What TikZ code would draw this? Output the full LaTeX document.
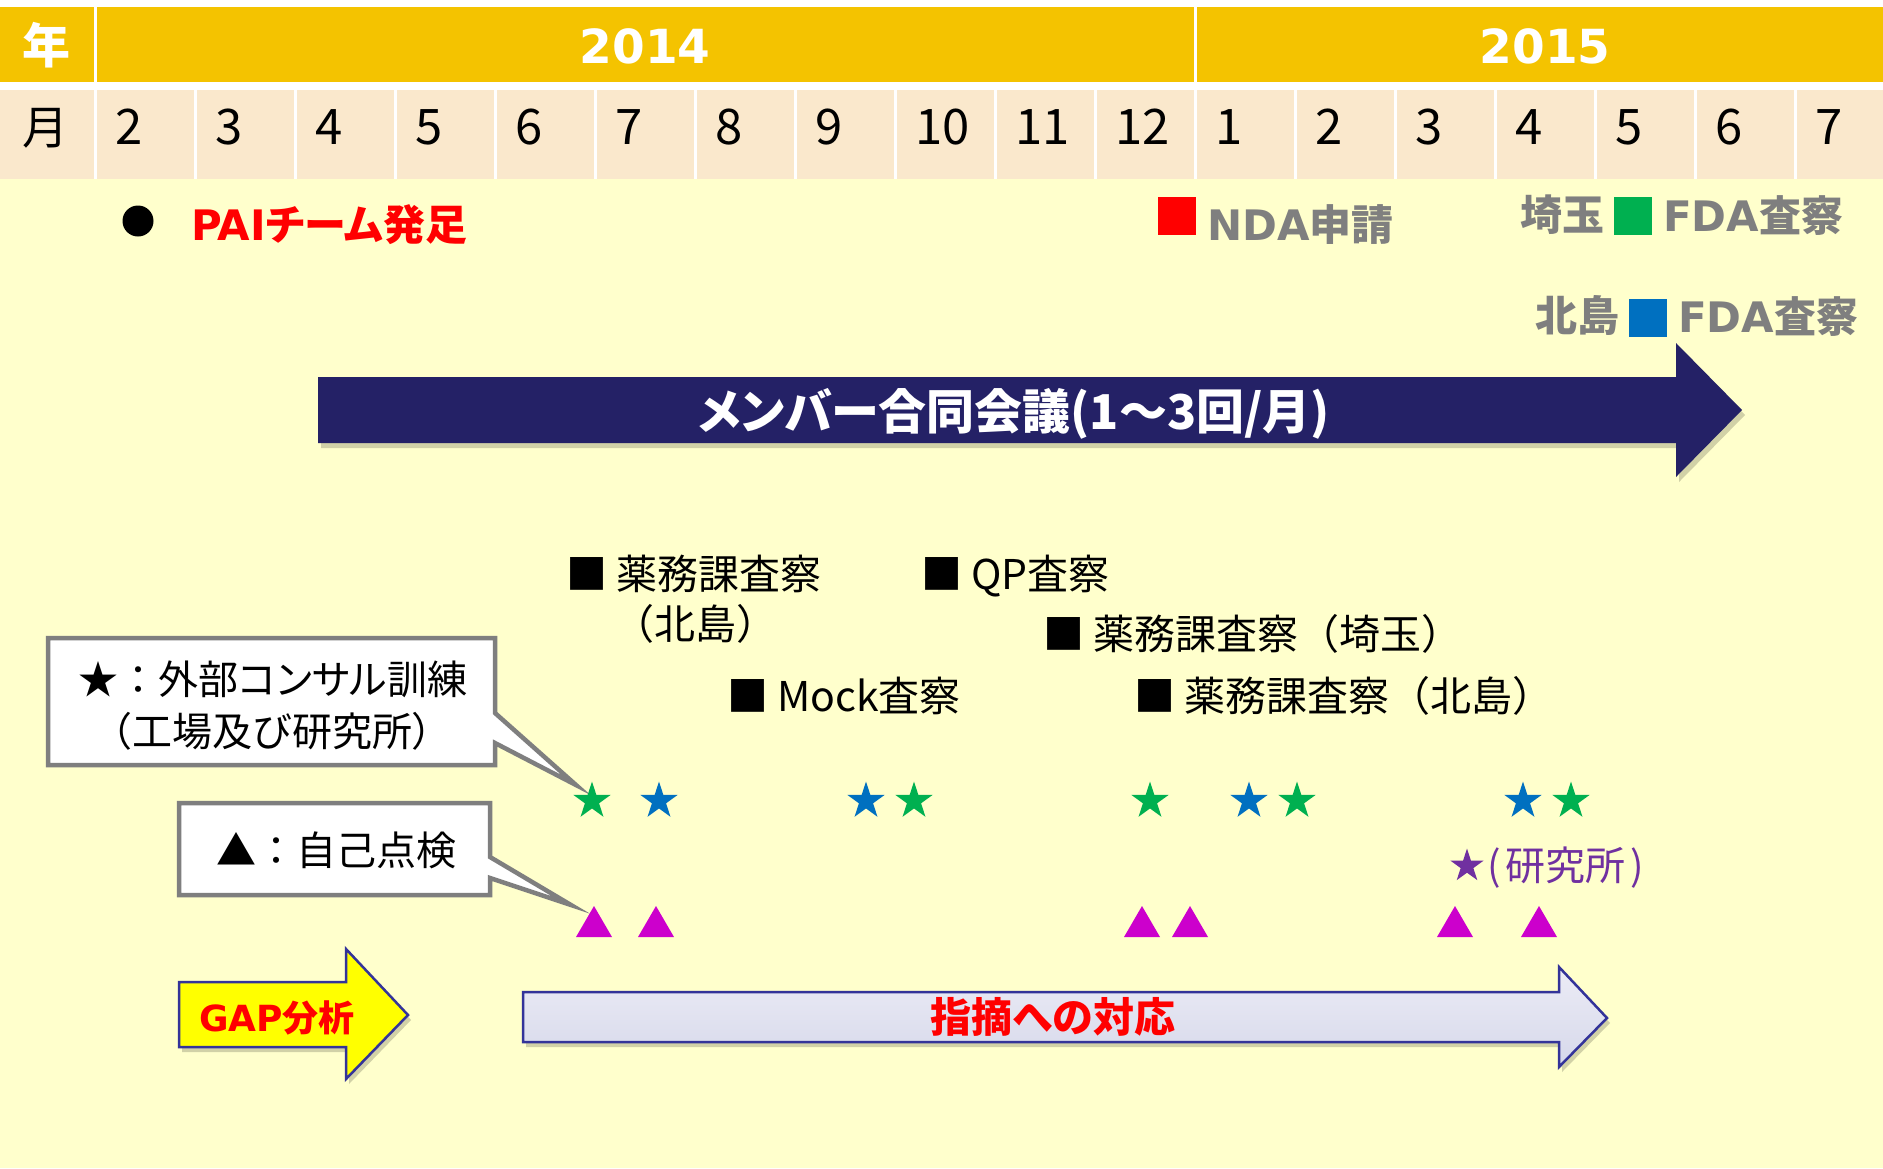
\documentclass[tikz,border=0pt]{standalone}
\usepackage{fontspec}
\setmainfont{Noto Sans CJK JP}[RawFeature=+palt]
\newfontfamily\jpf{Noto Sans CJK JP}
\newfontfamily\dv{DejaVu Sans}
\usetikzlibrary{shapes.geometric}
\definecolor{band}{HTML}{F4C300}
\definecolor{monthbg}{HTML}{FAE8CC}
\definecolor{bgy}{HTML}{FFFFCC}
\definecolor{navy}{HTML}{242166}
\definecolor{sgreen}{HTML}{00B050}
\definecolor{sblue}{HTML}{0070C0}
\definecolor{mag}{HTML}{CC00CC}
\definecolor{purp}{HTML}{7030A0}
\definecolor{gtext}{HTML}{7F7F7F}
\definecolor{cgray}{HTML}{7F7F7F}
\definecolor{aborder}{HTML}{333399}
\definecolor{lavtop}{HTML}{ECECF6}
\definecolor{lavbot}{HTML}{D6D8EA}
\definecolor{gapyel}{HTML}{FFFF00}
\definecolor{redtxt}{HTML}{FF0000}
\begin{document}
\begin{tikzpicture}[x=1pt,y=-1pt,
  lbl/.style={inner sep=0pt, outer sep=0pt},
  jp/.style={font=\fontsize{#1}{#1}\selectfont},
  jpb/.style={font=\fontsize{#1}{#1}\selectfont\bfseries},
  starnode/.style={star, star points=5, star point ratio=2.618, minimum size=39pt, inner sep=0pt, draw=none, fill=#1},
  calloutbox/.style={draw=cgray, line width=4.5pt, fill=white, line join=miter},
  shadowfill/.style={fill=black, opacity=0.18},
  arrowline/.style={draw=aborder, line width=2.5pt, line join=miter},
  legendsq/.style={inner sep=0pt, outer sep=0pt, minimum width=38pt, minimum height=38pt, fill=#1},
  trimark/.style={fill=mag}
]
\useasboundingbox (0,0) rectangle (1883,1168);
% background and header
\fill[white] (0,0) rectangle (1883,1168);
\fill[bgy] (0,179) rectangle (1883,1168);
\fill[band] (0,7) rectangle (1883,82);
\fill[monthbg] (0,90) rectangle (1883,179);
\foreach \k in {0,...,17} \fill[white] (94+100*\k,90) rectangle (97+100*\k,179);
\fill[white] (94,7) rectangle (97,82);
\fill[white] (1194,7) rectangle (1197,82);
\node[lbl, jpb=48, text=white, anchor=base] (nen) at (46,63) {年};
\node[lbl, font=\fontsize{47}{47}\selectfont\dv\bfseries, text=white, anchor=base] (y2014) at (645,63) {2014};
\node[lbl, font=\fontsize{47}{47}\selectfont\dv\bfseries, text=white, anchor=base] (y2015) at (1545,63) {2015};
\node[lbl, jp=46, anchor=base] (tsuki) at (46,144) {月};
\foreach \m [count=\j from 0] in {2,3,4,5,6,7,8,9,10,11,12,1,2,3,4,5,6,7}
  \node[lbl, jp=49, anchor=base west] (m\j) at (96+100*\j+19,144) {\m};
% milestones
\node[circle, fill=black, minimum size=31pt, inner sep=0pt] (dot) at (138,221) {};
\node[lbl, jpb=42, text=redtxt, anchor=base west] (pai) at (191,240) {{\dv\bfseries PAI}チーム発足};
\node[legendsq=redtxt] (sqred) at (1176.5,216) {};
\node[lbl, jpb=42, text=gtext, anchor=base west] (nda) at (1207,240) {{\dv\bfseries NDA}申請};
\node[lbl, jpb=42, text=gtext, anchor=base west] (saitama) at (1520,230) {埼玉};
\node[legendsq=sgreen] (sqgreen) at (1633,216) {};
\node[lbl, jpb=42, text=gtext, anchor=base west] (fda1) at (1663,231) {{\dv\bfseries FDA}査察};
\node[lbl, jpb=42, text=gtext, anchor=base west] (kitajima) at (1535,331) {北島};
\node[legendsq=sblue] (sqblue) at (1648,317.5) {};
\node[lbl, jpb=42, text=gtext, anchor=base west] (fda2) at (1678,332) {{\dv\bfseries FDA}査察};
% navy arrow
\fill[shadowfill] ([shift={(3,5)}]318,377) -- ++(1358,0) -- ++(0,-34) -- ++(66,67) -- ++(-66,67) -- ++(0,-34) -- ++(-1358,0) -- cycle;
\fill[navy] (318,377) -- (1676,377) -- (1676,343) -- (1742,410) -- (1676,477) -- (1676,443) -- (318,443) -- cycle;
\node[lbl, jpb=48, text=white, anchor=base] (meeting) at (1014,429) {メンバー合同会議(1～3回/月)};
% inspections
\node[lbl, jp=41, anchor=base west] (ins1) at (566,589) {■ 薬務課査察};
\node[lbl, font=\fontsize{41}{41}\selectfont\jpf, anchor=base west] (ins1b) at (613,639) {（北島）};
\node[lbl, jp=41, anchor=base west] (ins2) at (921,589) {■ QP査察};
\node[lbl, font=\fontsize{41}{41}\selectfont\jpf, anchor=base west] (ins3) at (1043,649) {■ 薬務課査察（埼玉）};
\node[lbl, jp=41, anchor=base west] (ins4) at (727,711) {■ Mock査察};
\node[lbl, font=\fontsize{41}{41}\selectfont\jpf, anchor=base west] (ins5) at (1134,711) {■ 薬務課査察（北島）};
% callouts
\draw[calloutbox] (48,638) -- (495,638) -- (495,713) -- (576,785) -- (495,743) -- (495,765) -- (48,765) -- cycle;
\node[lbl, jp=40, anchor=base] (c1a) at (273,694) {{\jpf ★：}外部コンサル訓練};
\node[lbl, font=\fontsize{40}{40}\selectfont\jpf, anchor=base] (c1b) at (272,746) {（工場及び研究所）};
\draw[calloutbox] (179,803) -- (490,803) -- (490,857) -- (571,905) -- (490,878) -- (490,895) -- (179,895) -- cycle;
\node[lbl, font=\fontsize{40}{40}\selectfont\jpf, anchor=base] (c2) at (336,865) {▲：自己点検};
% stars
\node[starnode=sgreen] (s1) at (592,801) {};
\node[starnode=sblue]  (s2) at (659,801) {};
\node[starnode=sblue]  (s3) at (866,801) {};
\node[starnode=sgreen] (s4) at (914,801) {};
\node[starnode=sgreen] (s5) at (1150,801) {};
\node[starnode=sblue]  (s6) at (1249,801) {};
\node[starnode=sgreen] (s7) at (1297,801) {};
\node[starnode=sblue]  (s8) at (1523,801) {};
\node[starnode=sgreen] (s9) at (1571,801) {};
\node[starnode=purp, minimum size=35pt] (sp) at (1467,866) {};
\node[lbl, jp=40, text=purp, anchor=base west] (kenkyu) at (1487,880) {(\hspace{5pt}研究所\hspace{5pt})};
% triangles
\foreach \x in {594,656,1142,1190,1455,1539}
  \fill[trimark] (\x-18,937) -- (\x+18,937) -- (\x,906) -- cycle;
% GAP arrow
\fill[shadowfill] ([shift={(3,5)}]179,982) -- ++(167,0) -- ++(0,-33) -- ++(62,66) -- ++(-62,64) -- ++(0,-32) -- ++(-167,0) -- cycle;
\draw[arrowline, fill=gapyel] (179,982) -- (346,982) -- (346,949) -- (408,1015) -- (346,1079) -- (346,1047) -- (179,1047) -- cycle;
\node[lbl, font=\fontsize{36}{36}\selectfont\bfseries, text=redtxt, anchor=base] (gap) at (277,1031) {{\dv\bfseries GAP}分析};
% response arrow
\fill[shadowfill] ([shift={(3,5)}]523,992) -- ++(1036,0) -- ++(0,-25) -- ++(48,51) -- ++(-48,49) -- ++(0,-25) -- ++(-1036,0) -- cycle;
\draw[arrowline, top color=lavtop, bottom color=lavbot] (523,992) -- (1559,992) -- (1559,967) -- (1607,1018) -- (1559,1067) -- (1559,1042) -- (523,1042) -- cycle;
\node[lbl, jpb=41, text=redtxt, anchor=base] (taiou) at (1053,1032) {指摘への対応};
\end{tikzpicture}
\end{document}
